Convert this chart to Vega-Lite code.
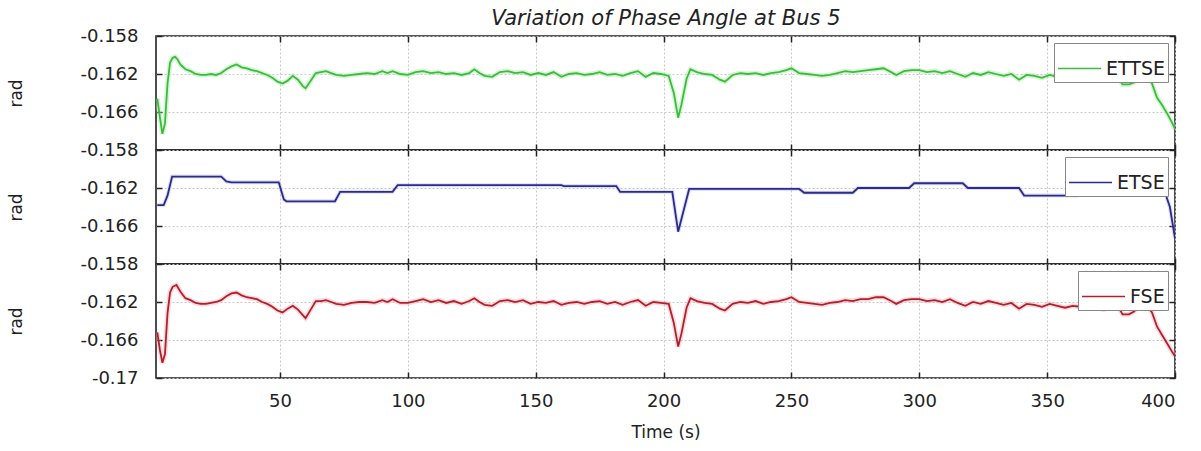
{
  "$schema": "https://vega.github.io/schema/vega-lite/v6.json",
  "background": "white",
  "padding": {"left": 7, "top": 8, "right": 5, "bottom": 5},
  "bounds": "flush",
  "title": {"text": "Variation of Phase Angle at Bus 5", "font": "DejaVu Sans", "fontStyle": "italic", "fontWeight": "normal", "fontSize": 21, "color": "#222222", "anchor": "middle", "offset": -3, "dx": 74},
  "config": {
    "view": {"stroke": "#222222", "strokeWidth": 1.6},
    "axis": {"labelFont": "DejaVu Sans", "labelFontSize": 18, "labelColor": "#222222", "titleFont": "DejaVu Sans", "titleFontSize": 17, "titleFontWeight": "normal", "titleColor": "#222222", "tickColor": "#222222", "tickWidth": 1.5, "gridColor": "#c8c8c8", "gridDash": [2, 2], "domain": false},
    "legend": {"orient": "top-right", "title": null, "symbolType": "stroke", "symbolStrokeWidth": 1.6, "symbolSize": 1850, "labelFont": "DejaVu Sans", "labelFontSize": 19, "labelColor": "#222222", "strokeColor": "#888888", "fillColor": "white", "padding": 3, "offset": 7, "cornerRadius": 0}
  },
  "datasets": {
    "ettse": [
      {"t": 2, "v": -0.1646}, {"t": 3, "v": -0.1665}, {"t": 4, "v": -0.1683}, {"t": 5, "v": -0.1672}, {"t": 6, "v": -0.1630}, {"t": 7, "v": -0.1608}, {"t": 8, "v": -0.1603}, {"t": 9, "v": -0.1602}, {"t": 10, "v": -0.1605}, {"t": 11, "v": -0.1610},
      {"t": 13, "v": -0.1615}, {"t": 15, "v": -0.1617}, {"t": 17, "v": -0.1620}, {"t": 19, "v": -0.1621}, {"t": 21, "v": -0.1621}, {"t": 23, "v": -0.1620}, {"t": 25, "v": -0.1621}, {"t": 27, "v": -0.1619}, {"t": 29, "v": -0.1615}, {"t": 31, "v": -0.1612},
      {"t": 33, "v": -0.1610}, {"t": 35, "v": -0.1613}, {"t": 37, "v": -0.1614}, {"t": 39, "v": -0.1616}, {"t": 41, "v": -0.1617}, {"t": 43, "v": -0.1619}, {"t": 45, "v": -0.1621}, {"t": 47, "v": -0.1624}, {"t": 49, "v": -0.1628}, {"t": 51, "v": -0.1630},
      {"t": 53, "v": -0.1627}, {"t": 55, "v": -0.1622}, {"t": 57, "v": -0.1626}, {"t": 59, "v": -0.1633}, {"t": 60, "v": -0.1635}, {"t": 62, "v": -0.1627}, {"t": 64, "v": -0.1619}, {"t": 66, "v": -0.1618}, {"t": 68, "v": -0.1617}, {"t": 70, "v": -0.1619},
      {"t": 72, "v": -0.1621}, {"t": 75, "v": -0.1622}, {"t": 78, "v": -0.1621}, {"t": 81, "v": -0.1620}, {"t": 84, "v": -0.1619}, {"t": 87, "v": -0.1620}, {"t": 90, "v": -0.1617}, {"t": 92, "v": -0.1619}, {"t": 94, "v": -0.1617}, {"t": 97, "v": -0.1620},
      {"t": 100, "v": -0.1621}, {"t": 103, "v": -0.1618}, {"t": 106, "v": -0.1617}, {"t": 109, "v": -0.1619}, {"t": 112, "v": -0.1618}, {"t": 115, "v": -0.1620}, {"t": 118, "v": -0.1619}, {"t": 121, "v": -0.1621}, {"t": 124, "v": -0.1619}, {"t": 126, "v": -0.1615},
      {"t": 128, "v": -0.1619}, {"t": 130, "v": -0.1622}, {"t": 133, "v": -0.1623}, {"t": 136, "v": -0.1618}, {"t": 139, "v": -0.1617}, {"t": 142, "v": -0.1619}, {"t": 145, "v": -0.1618}, {"t": 148, "v": -0.1621}, {"t": 151, "v": -0.1619}, {"t": 154, "v": -0.1621},
      {"t": 157, "v": -0.1618}, {"t": 160, "v": -0.1623}, {"t": 163, "v": -0.1620}, {"t": 166, "v": -0.1619}, {"t": 169, "v": -0.1621}, {"t": 172, "v": -0.1620}, {"t": 175, "v": -0.1618}, {"t": 178, "v": -0.1621}, {"t": 181, "v": -0.1620}, {"t": 184, "v": -0.1622},
      {"t": 187, "v": -0.1619}, {"t": 190, "v": -0.1617}, {"t": 193, "v": -0.1623}, {"t": 196, "v": -0.1619}, {"t": 199, "v": -0.1620}, {"t": 202, "v": -0.1622}, {"t": 204, "v": -0.1640}, {"t": 205.7, "v": -0.1666}, {"t": 207, "v": -0.1652}, {"t": 209, "v": -0.1625},
      {"t": 210.5, "v": -0.1615}, {"t": 213, "v": -0.1618}, {"t": 216, "v": -0.1620}, {"t": 219, "v": -0.1621}, {"t": 222, "v": -0.1626}, {"t": 224, "v": -0.1628}, {"t": 227, "v": -0.1621}, {"t": 230, "v": -0.1619}, {"t": 233, "v": -0.1620}, {"t": 236, "v": -0.1619},
      {"t": 239, "v": -0.1621}, {"t": 242, "v": -0.1619}, {"t": 245, "v": -0.1618}, {"t": 248, "v": -0.1616}, {"t": 250, "v": -0.1614}, {"t": 253, "v": -0.1619}, {"t": 256, "v": -0.1620}, {"t": 259, "v": -0.1621}, {"t": 262, "v": -0.1622}, {"t": 265, "v": -0.1621},
      {"t": 268, "v": -0.1619}, {"t": 271, "v": -0.1617}, {"t": 274, "v": -0.1618}, {"t": 277, "v": -0.1617}, {"t": 280, "v": -0.1616}, {"t": 283, "v": -0.1615}, {"t": 286, "v": -0.1614}, {"t": 289, "v": -0.1618}, {"t": 291, "v": -0.1621}, {"t": 294, "v": -0.1617},
      {"t": 297, "v": -0.1616}, {"t": 300, "v": -0.1616}, {"t": 303, "v": -0.1618}, {"t": 306, "v": -0.1617}, {"t": 309, "v": -0.1619}, {"t": 312, "v": -0.1617}, {"t": 315, "v": -0.1620}, {"t": 318, "v": -0.1623}, {"t": 321, "v": -0.1619}, {"t": 324, "v": -0.1621},
      {"t": 327, "v": -0.1618}, {"t": 330, "v": -0.1620}, {"t": 333, "v": -0.1622}, {"t": 336, "v": -0.1620}, {"t": 339, "v": -0.1626}, {"t": 342, "v": -0.1621}, {"t": 345, "v": -0.1622}, {"t": 348, "v": -0.1624}, {"t": 351, "v": -0.1621}, {"t": 354, "v": -0.1623},
      {"t": 357, "v": -0.1625}, {"t": 360, "v": -0.1623}, {"t": 363, "v": -0.1624}, {"t": 366, "v": -0.1626}, {"t": 369, "v": -0.1624}, {"t": 372, "v": -0.1627}, {"t": 375, "v": -0.1624}, {"t": 378, "v": -0.1625}, {"t": 379.5, "v": -0.1631}, {"t": 382, "v": -0.1631},
      {"t": 384, "v": -0.1629}, {"t": 386, "v": -0.1623}, {"t": 389, "v": -0.1623}, {"t": 391, "v": -0.1630}, {"t": 393, "v": -0.1645}, {"t": 395, "v": -0.1653}, {"t": 397, "v": -0.1662}, {"t": 399, "v": -0.1672}, {"t": 400, "v": -0.1678}
    ],
    "etse": [
      {"t": 2, "v": -0.1638}, {"t": 4.5, "v": -0.1638}, {"t": 6, "v": -0.1628}, {"t": 7.8, "v": -0.1608}, {"t": 27, "v": -0.1608}, {"t": 29, "v": -0.1613}, {"t": 31, "v": -0.1614}, {"t": 49.5, "v": -0.1614}, {"t": 51.5, "v": -0.1632}, {"t": 52.5, "v": -0.1634},
      {"t": 71.5, "v": -0.1634}, {"t": 73.5, "v": -0.1624}, {"t": 94, "v": -0.1624}, {"t": 96, "v": -0.1617}, {"t": 160, "v": -0.1617}, {"t": 161, "v": -0.1618}, {"t": 181.5, "v": -0.1618}, {"t": 183, "v": -0.1624}, {"t": 203.4, "v": -0.1624}, {"t": 205.7, "v": -0.1666},
      {"t": 210, "v": -0.1621}, {"t": 253, "v": -0.1621}, {"t": 255, "v": -0.1625}, {"t": 274, "v": -0.1625}, {"t": 276, "v": -0.1620}, {"t": 296, "v": -0.1620}, {"t": 298, "v": -0.1615}, {"t": 317, "v": -0.1615}, {"t": 319, "v": -0.1620}, {"t": 339, "v": -0.1620},
      {"t": 341, "v": -0.1628}, {"t": 362, "v": -0.1628}, {"t": 364, "v": -0.1624}, {"t": 396, "v": -0.1624}, {"t": 398, "v": -0.1640}, {"t": 400, "v": -0.1673}
    ],
    "fse": [
      {"t": 2, "v": -0.1652}, {"t": 3, "v": -0.1670}, {"t": 4, "v": -0.1684}, {"t": 5, "v": -0.1675}, {"t": 6, "v": -0.1632}, {"t": 7, "v": -0.1610}, {"t": 8, "v": -0.1604}, {"t": 9.5, "v": -0.1602}, {"t": 11, "v": -0.1609},
      {"t": 13, "v": -0.1616}, {"t": 15, "v": -0.1618}, {"t": 17, "v": -0.1621}, {"t": 19, "v": -0.1622}, {"t": 21, "v": -0.1622}, {"t": 23, "v": -0.1621}, {"t": 25, "v": -0.1620}, {"t": 27, "v": -0.1618}, {"t": 29, "v": -0.1614}, {"t": 31, "v": -0.1611},
      {"t": 33, "v": -0.1610}, {"t": 35, "v": -0.1613}, {"t": 37, "v": -0.1615}, {"t": 39, "v": -0.1616}, {"t": 41, "v": -0.1617}, {"t": 43, "v": -0.1620}, {"t": 45, "v": -0.1622}, {"t": 47, "v": -0.1625}, {"t": 49, "v": -0.1629}, {"t": 51, "v": -0.1631},
      {"t": 53, "v": -0.1627}, {"t": 55, "v": -0.1624}, {"t": 57, "v": -0.1628}, {"t": 59, "v": -0.1634}, {"t": 60, "v": -0.1637}, {"t": 62, "v": -0.1628}, {"t": 64, "v": -0.1619}, {"t": 66, "v": -0.1619}, {"t": 68, "v": -0.1618}, {"t": 70, "v": -0.1620},
      {"t": 72, "v": -0.1622}, {"t": 75, "v": -0.1623}, {"t": 78, "v": -0.1621}, {"t": 81, "v": -0.1620}, {"t": 84, "v": -0.1620}, {"t": 87, "v": -0.1621}, {"t": 90, "v": -0.1618}, {"t": 92, "v": -0.1620}, {"t": 94, "v": -0.1617}, {"t": 97, "v": -0.1621},
      {"t": 100, "v": -0.1621}, {"t": 103, "v": -0.1619}, {"t": 106, "v": -0.1617}, {"t": 109, "v": -0.1620}, {"t": 112, "v": -0.1618}, {"t": 115, "v": -0.1621}, {"t": 118, "v": -0.1619}, {"t": 121, "v": -0.1622}, {"t": 124, "v": -0.1619}, {"t": 126, "v": -0.1616},
      {"t": 128, "v": -0.1620}, {"t": 130, "v": -0.1623}, {"t": 133, "v": -0.1624}, {"t": 136, "v": -0.1619}, {"t": 139, "v": -0.1618}, {"t": 142, "v": -0.1620}, {"t": 145, "v": -0.1618}, {"t": 148, "v": -0.1622}, {"t": 151, "v": -0.1620}, {"t": 154, "v": -0.1621},
      {"t": 157, "v": -0.1619}, {"t": 160, "v": -0.1623}, {"t": 163, "v": -0.1621}, {"t": 166, "v": -0.1620}, {"t": 169, "v": -0.1622}, {"t": 172, "v": -0.1620}, {"t": 175, "v": -0.1619}, {"t": 178, "v": -0.1622}, {"t": 181, "v": -0.1620}, {"t": 184, "v": -0.1623},
      {"t": 187, "v": -0.1620}, {"t": 190, "v": -0.1618}, {"t": 193, "v": -0.1624}, {"t": 196, "v": -0.1620}, {"t": 199, "v": -0.1621}, {"t": 202, "v": -0.1622}, {"t": 204, "v": -0.1642}, {"t": 205.7, "v": -0.1667}, {"t": 207, "v": -0.1653}, {"t": 209, "v": -0.1626},
      {"t": 210.5, "v": -0.1616}, {"t": 213, "v": -0.1619}, {"t": 216, "v": -0.1621}, {"t": 219, "v": -0.1622}, {"t": 222, "v": -0.1627}, {"t": 224, "v": -0.1629}, {"t": 227, "v": -0.1622}, {"t": 230, "v": -0.1620}, {"t": 233, "v": -0.1621}, {"t": 236, "v": -0.1619},
      {"t": 239, "v": -0.1622}, {"t": 242, "v": -0.1620}, {"t": 245, "v": -0.1619}, {"t": 248, "v": -0.1617}, {"t": 250, "v": -0.1615}, {"t": 253, "v": -0.1620}, {"t": 256, "v": -0.1621}, {"t": 259, "v": -0.1622}, {"t": 262, "v": -0.1623}, {"t": 265, "v": -0.1621},
      {"t": 268, "v": -0.1620}, {"t": 271, "v": -0.1618}, {"t": 274, "v": -0.1619}, {"t": 277, "v": -0.1617}, {"t": 280, "v": -0.1617}, {"t": 283, "v": -0.1615}, {"t": 286, "v": -0.1615}, {"t": 289, "v": -0.1619}, {"t": 291, "v": -0.1622}, {"t": 294, "v": -0.1618},
      {"t": 297, "v": -0.1617}, {"t": 300, "v": -0.1617}, {"t": 303, "v": -0.1619}, {"t": 306, "v": -0.1618}, {"t": 309, "v": -0.1620}, {"t": 312, "v": -0.1617}, {"t": 315, "v": -0.1621}, {"t": 318, "v": -0.1624}, {"t": 321, "v": -0.1620}, {"t": 324, "v": -0.1622},
      {"t": 327, "v": -0.1619}, {"t": 330, "v": -0.1621}, {"t": 333, "v": -0.1623}, {"t": 336, "v": -0.1621}, {"t": 339, "v": -0.1627}, {"t": 342, "v": -0.1622}, {"t": 345, "v": -0.1623}, {"t": 348, "v": -0.1625}, {"t": 351, "v": -0.1622}, {"t": 354, "v": -0.1624},
      {"t": 357, "v": -0.1626}, {"t": 360, "v": -0.1624}, {"t": 363, "v": -0.1625}, {"t": 366, "v": -0.1627}, {"t": 369, "v": -0.1625}, {"t": 372, "v": -0.1628}, {"t": 375, "v": -0.1625}, {"t": 378, "v": -0.1626}, {"t": 379.5, "v": -0.1633}, {"t": 382, "v": -0.1633},
      {"t": 384, "v": -0.1630}, {"t": 386, "v": -0.1624}, {"t": 389, "v": -0.1624}, {"t": 391, "v": -0.1631}, {"t": 393, "v": -0.1646}, {"t": 395, "v": -0.1655}, {"t": 397, "v": -0.1664}, {"t": 399, "v": -0.1673}, {"t": 400, "v": -0.1677}
    ]
  },
  "spacing": 0,
  "resolve": {"scale": {"color": "independent"}, "legend": {"color": "independent"}},
  "vconcat": [
    {
      "width": 1019, "height": 114,
      "data": {"name": "ettse"},
      "resolve": {"axis": {"x": "independent", "y": "independent"}},
      "layer": [
        {
          "mark": {"type": "line", "color": "#a8e8a8", "strokeWidth": 5, "opacity": 0.45, "clip": true},
          "encoding": {
            "x": {"field": "t", "type": "quantitative", "scale": {"domain": [1.5, 400], "nice": false, "zero": false}, "axis": {"orient": "top", "values": [50, 100, 150, 200, 250, 300, 350, 400], "labels": false, "tickSize": -6, "grid": false, "title": null}},
            "y": {"field": "v", "type": "quantitative", "scale": {"domain": [-0.17, -0.158], "nice": false, "zero": false}, "axis": {"orient": "right", "values": [-0.158, -0.162, -0.166], "labels": false, "tickSize": -6, "grid": false, "title": null}}
          }
        },
        {
          "mark": {"type": "line", "strokeWidth": 1.8, "clip": true},
          "encoding": {
            "x": {"field": "t", "type": "quantitative", "scale": {"domain": [1.5, 400], "nice": false, "zero": false}, "axis": {"orient": "bottom", "values": [50, 100, 150, 200, 250, 300, 350, 400], "labels": false, "tickSize": -6, "grid": true, "title": null}},
            "y": {"field": "v", "type": "quantitative", "scale": {"domain": [-0.17, -0.158], "nice": false, "zero": false}, "axis": {"orient": "left", "values": [-0.158, -0.162, -0.166], "labelExpr": "replace(format(datum.value, '.3~f'), '\u2212', '-')", "tickSize": -6, "labelPadding": 24, "grid": true, "title": "rad", "titlePadding": 54}},
            "color": {"datum": "ETTSE", "type": "nominal", "scale": {"range": ["#3cbc3c"]}}
          }
        }
      ]
    },
    {
      "width": 1019, "height": 114,
      "data": {"name": "etse"},
      "resolve": {"axis": {"x": "independent", "y": "independent"}},
      "layer": [
        {
          "mark": {"type": "line", "color": "#a0a0e0", "strokeWidth": 4, "opacity": 0.35, "clip": true},
          "encoding": {
            "x": {"field": "t", "type": "quantitative", "scale": {"domain": [1.5, 400], "nice": false, "zero": false}, "axis": {"orient": "top", "values": [50, 100, 150, 200, 250, 300, 350, 400], "labels": false, "tickSize": -6, "grid": false, "title": null}},
            "y": {"field": "v", "type": "quantitative", "scale": {"domain": [-0.17, -0.158], "nice": false, "zero": false}, "axis": {"orient": "right", "values": [-0.158, -0.162, -0.166], "labels": false, "tickSize": -6, "grid": false, "title": null}}
          }
        },
        {
          "mark": {"type": "line", "strokeWidth": 1.8, "clip": true},
          "encoding": {
            "x": {"field": "t", "type": "quantitative", "scale": {"domain": [1.5, 400], "nice": false, "zero": false}, "axis": {"orient": "bottom", "values": [50, 100, 150, 200, 250, 300, 350, 400], "labels": false, "tickSize": -6, "grid": true, "title": null}},
            "y": {"field": "v", "type": "quantitative", "scale": {"domain": [-0.17, -0.158], "nice": false, "zero": false}, "axis": {"orient": "left", "values": [-0.158, -0.162, -0.166], "labelExpr": "replace(format(datum.value, '.3~f'), '\u2212', '-')", "tickSize": -6, "labelPadding": 24, "grid": true, "title": "rad", "titlePadding": 54}},
            "color": {"datum": "ETSE", "type": "nominal", "scale": {"range": ["#2b2b8c"]}}
          }
        }
      ]
    },
    {
      "width": 1019, "height": 114,
      "data": {"name": "fse"},
      "resolve": {"axis": {"x": "independent", "y": "independent"}},
      "layer": [
        {
          "mark": {"type": "line", "color": "#f0a8b0", "strokeWidth": 5, "opacity": 0.4, "clip": true},
          "encoding": {
            "x": {"field": "t", "type": "quantitative", "scale": {"domain": [1.5, 400], "nice": false, "zero": false}, "axis": {"orient": "top", "values": [50, 100, 150, 200, 250, 300, 350, 400], "labels": false, "tickSize": -6, "grid": false, "title": null}},
            "y": {"field": "v", "type": "quantitative", "scale": {"domain": [-0.17, -0.158], "nice": false, "zero": false}, "axis": {"orient": "right", "values": [-0.158, -0.162, -0.166, -0.17], "labels": false, "tickSize": -6, "grid": false, "title": null}}
          }
        },
        {
          "mark": {"type": "line", "strokeWidth": 1.8, "clip": true},
          "encoding": {
            "x": {"field": "t", "type": "quantitative", "scale": {"domain": [1.5, 400], "nice": false, "zero": false}, "axis": {"orient": "bottom", "values": [50, 100, 150, 200, 250, 300, 350, 400], "tickSize": -6, "labelPadding": 20, "grid": true, "title": "Time (s)", "titlePadding": 14}},
            "y": {"field": "v", "type": "quantitative", "scale": {"domain": [-0.17, -0.158], "nice": false, "zero": false}, "axis": {"orient": "left", "values": [-0.158, -0.162, -0.166, -0.17], "labelExpr": "replace(format(datum.value, '.3~f'), '\u2212', '-')", "tickSize": -6, "labelPadding": 24, "grid": true, "title": "rad", "titlePadding": 54}},
            "color": {"datum": "FSE", "type": "nominal", "scale": {"range": ["#b3202c"]}}
          }
        }
      ]
    }
  ]
}
